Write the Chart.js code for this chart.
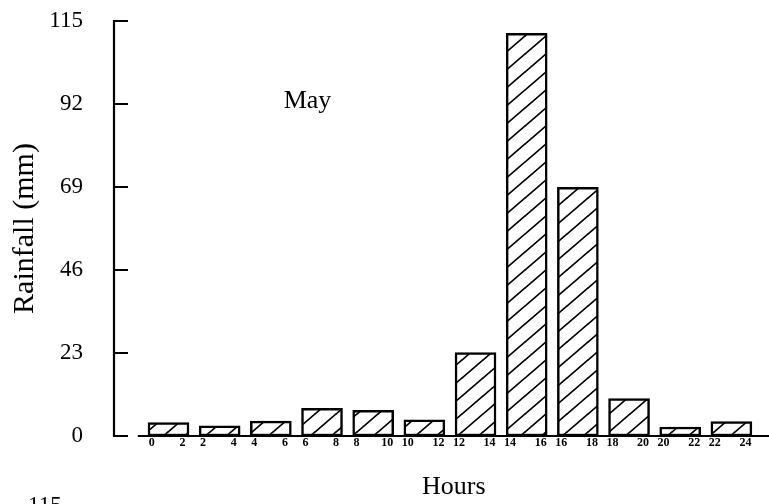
<!DOCTYPE html>
<html><head><meta charset="utf-8">
<script src="https://cdn.jsdelivr.net/npm/chart.js@4"></script>
<style>html,body{margin:0;padding:0;background:#fff;}</style>
</head><body>
<canvas id="c" width="769" height="504"></canvas>
<script>
// ---- data ----
const binStart = [0, 2, 4, 6, 8, 10, 12, 14, 16, 18, 20, 22];
const binEnd   = [2, 4, 6, 8, 10, 12, 14, 16, 18, 20, 22, 24];
const rainfall = [3.7, 2.8, 4.1, 7.7, 7.1, 4.5, 23.1, 111.6, 68.9, 10.4, 2.5, 4.0];
const yTicks   = [0, 23, 46, 69, 92, 115];
const monthLabel = 'May';
const xTitle = 'Hours';
const yTitle = 'Rainfall (mm)';
const fragmentText = '115';

const SERIF = "'Liberation Serif', 'DejaVu Serif', serif";
const canvas = document.getElementById('c');
const ctx = canvas.getContext('2d');

function makeHatch() {
  const W = 21, H = 18;
  const c = document.createElement('canvas');
  c.width = W; c.height = H;
  const g = c.getContext('2d');
  g.fillStyle = '#fff'; g.fillRect(0, 0, W, H);
  g.strokeStyle = '#000'; g.lineWidth = 1.7;
  g.beginPath();
  [[0, 0], [-W, 0], [W, 0], [0, -H], [0, H]].forEach(([dx, dy]) => {
    g.moveTo(dx, H + dy); g.lineTo(W + dx, dy);
  });
  g.stroke();
  return ctx.createPattern(c, 'repeat');
}

// x tick positions/labels built from the bins
const xTickVals = [], xTickText = [];
binStart.forEach((s, i) => {
  xTickVals.push(s + 0.35); xTickText.push(String(s));
  xTickVals.push(binEnd[i] - 0.45); xTickText.push(String(binEnd[i]));
});

const axesPlugin = {
  id: 'axesPlugin',
  afterDatasetsDraw(chart) {
    const {ctx, chartArea, scales: {x, y}} = chart;
    const x0 = chartArea.left;
    const yTop = y.getPixelForValue(yTicks[yTicks.length - 1]);
    const yBot = y.getPixelForValue(0);
    ctx.save();
    ctx.strokeStyle = '#000';
    ctx.lineWidth = 2.2;
    ctx.beginPath();
    ctx.moveTo(x0, yTop - 1); ctx.lineTo(x0, yBot + 1);
    yTicks.forEach(v => {
      const p = y.getPixelForValue(v);
      ctx.moveTo(x0, p); ctx.lineTo(x0 + 14, p);
    });
    ctx.moveTo(x.getPixelForValue(-0.2), yBot); ctx.lineTo(chartArea.right, yBot);
    ctx.stroke();

    ctx.fillStyle = '#000';
    ctx.font = '26px ' + SERIF;
    ctx.textAlign = 'left'; ctx.textBaseline = 'alphabetic';
    ctx.fillText(monthLabel, x.getPixelForValue(5.5), y.getPixelForValue(91));

    ctx.textAlign = 'center'; ctx.textBaseline = 'middle';
    ctx.fillText(xTitle, x.getPixelForValue(12.15), chartArea.bottom + 51);

    ctx.font = '23px ' + SERIF;
    ctx.textAlign = 'left'; ctx.textBaseline = 'top';
    ctx.fillText(fragmentText, 28, chart.height - 10);
    ctx.restore();
  }
};

new Chart(ctx, {
  type: 'bar',
  data: {
    datasets: [{
      data: binStart.map((s, i) => ({x: (s + binEnd[i]) / 2, y: rainfall[i]})),
      backgroundColor: makeHatch(),
      borderColor: '#000',
      borderWidth: 2.5,
      borderSkipped: false,
      barThickness: 41
    }]
  },
  options: {
    responsive: false,
    animation: false,
    layout: {padding: {top: 21, left: 0, right: 0, bottom: 0}},
    plugins: {legend: {display: false}, tooltip: {enabled: false}},
    scales: {
      x: {
        type: 'linear', min: -1.13, max: 24.47, offset: false,
        grid: {display: false, offset: false, drawTicks: false},
        border: {display: false},
        afterBuildTicks: sc => { sc.ticks = xTickVals.map(v => ({value: v})); },
        afterFit: sc => { sc.height = 68; sc.paddingLeft = 0; sc.paddingRight = 0; },
        ticks: {
          autoSkip: false, maxRotation: 0, minRotation: 0, padding: 0, color: '#000',
          font: {family: SERIF, size: 12, weight: 'bold'},
          callback: (v, i) => xTickText[i]
        }
      },
      y: {
        min: 0, max: 115,
        grid: {display: false, drawTicks: false},
        border: {display: false},
        afterBuildTicks: sc => { sc.ticks = yTicks.map(v => ({value: v})); },
        afterFit: sc => { sc.width = 114; sc.paddingTop = 0; sc.paddingBottom = 0; },
        ticks: {padding: 31, color: '#000', font: {family: SERIF, size: 23}},
        title: {display: true, text: yTitle, color: '#000',
                font: {family: SERIF, size: 30}, padding: {top: 7, bottom: 0}}
      }
    }
  },
  plugins: [axesPlugin]
});
</script>
</body></html>
